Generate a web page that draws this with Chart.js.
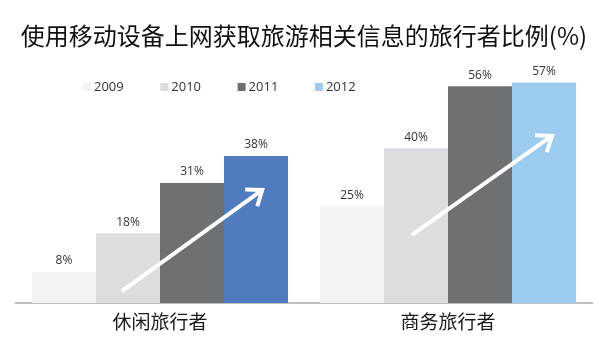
<!DOCTYPE html>
<html lang="zh">
<head>
    <meta charset="UTF-8">
    <title>使用移动设备上网获取旅游相关信息的旅行者比例(%)</title>
    <script src="https://cdn.jsdelivr.net/npm/chart.js"></script>
    <style>
        body { margin: 0; padding: 0; background: #fff; }
        .chart-box { width: 599px; height: 347px; position: relative; }
    </style>
</head>
<body>
    <div class="chart-box">
        <canvas id="myChart"></canvas>
    </div>

    <script>
        // categories, years and percentages
        const categories = ['休闲旅行者', '商务旅行者'];
        const years = ['2009', '2010', '2011', '2012'];
        const share2009 = [8, 25];
        const share2010 = [18, 40];
        const share2011 = [31, 56];
        const share2012 = [38, 57];

        // trend arrows: [category offset, value] for tail and head
        const arrowTails = [[-0.132, 3.1], [0.875, 17.6]];
        const arrowHeads = [[0.355, 29.2], [1.361, 43.2]];

        const colors2012 = ['#4f7bbf', '#9bcbef'];

        // percentage above each bar
        const valueLabels = {
            id: 'valueLabels',
            afterDatasetsDraw(chart) {
                const ctx = chart.ctx;
                ctx.save();
                ctx.font = '12px "Open Sans", sans-serif';
                ctx.fillStyle = '#333';
                ctx.textAlign = 'center';
                ctx.textBaseline = 'middle';
                chart.data.datasets.forEach((ds, i) => {
                    chart.getDatasetMeta(i).data.forEach((bar, j) => {
                        ctx.fillText(ds.data[j] + '%', bar.x, bar.y - 11);
                    });
                });
                ctx.restore();
            }
        };

        // white trend arrows over the bars
        const trendArrows = {
            id: 'trendArrows',
            afterDatasetsDraw(chart) {
                const { ctx, scales: { x, y } } = chart;
                ctx.save();
                ctx.strokeStyle = '#fff';
                ctx.lineWidth = 4;
                arrowTails.forEach((t, i) => {
                    const h = arrowHeads[i];
                    const x0 = x.getPixelForValue(t[0]), y0 = y.getPixelForValue(t[1]);
                    const x1 = x.getPixelForValue(h[0]), y1 = y.getPixelForValue(h[1]);
                    const ang = Math.atan2(y1 - y0, x1 - x0);
                    ctx.lineCap = 'butt';
                    ctx.beginPath();
                    ctx.moveTo(x0, y0);
                    ctx.lineTo(x1 - Math.cos(ang) * 2, y1 - Math.sin(ang) * 2);
                    ctx.stroke();
                    const len = 17, spread = 0.65;
                    ctx.lineJoin = 'miter';
                    ctx.beginPath();
                    ctx.moveTo(x1 - len * Math.cos(ang - spread), y1 - len * Math.sin(ang - spread));
                    ctx.lineTo(x1, y1);
                    ctx.lineTo(x1 - len * Math.cos(ang + spread), y1 - len * Math.sin(ang + spread));
                    ctx.stroke();
                });
                ctx.restore();
            }
        };

        // one-row legend with small square swatches
        const yearLegend = {
            id: 'yearLegend',
            afterDraw(chart) {
                const ctx = chart.ctx;
                ctx.save();
                ctx.font = '13px "Open Sans", sans-serif';
                ctx.textBaseline = 'middle';
                chart.data.datasets.forEach((ds, i) => {
                    const left = 83 + i * 77.3;
                    const swatch = Array.isArray(ds.backgroundColor) ? ds.backgroundColor[1] : ds.backgroundColor;
                    ctx.fillStyle = swatch;
                    ctx.fillRect(left, 83, 8, 8);
                    ctx.fillStyle = '#333';
                    ctx.fillText(ds.label, left + 11, 87.5);
                });
                ctx.restore();
            }
        };

        const ctx = document.getElementById('myChart').getContext('2d');
        new Chart(ctx, {
            type: 'bar',
            data: {
                labels: categories,
                datasets: [
                    { label: years[0], data: share2009, backgroundColor: '#f3f3f3' },
                    { label: years[1], data: share2010, backgroundColor: '#dcdde0' },
                    { label: years[2], data: share2011, backgroundColor: '#6e7074' },
                    { label: years[3], data: share2012, backgroundColor: colors2012 }
                ]
            },
            options: {
                responsive: true,
                maintainAspectRatio: false,
                animation: false,
                categoryPercentage: 256 / 288,
                barPercentage: 1,
                layout: { padding: { left: 16, right: 7, top: 0, bottom: 6 } },
                plugins: {
                    legend: { display: false },
                    tooltip: { enabled: false },
                    title: {
                        display: true,
                        text: '使用移动设备上网获取旅游相关信息的旅行者比例(%)',
                        color: '#111',
                        font: { family: '"Noto Sans CJK SC", sans-serif', size: 24, weight: 'normal', lineHeight: 1.2 },
                        padding: { top: 21, bottom: 21 }
                    }
                },
                scales: {
                    x: {
                        grid: { display: false, drawTicks: false },
                        border: { display: true, color: '#bfbfbf', width: 2 },
                        ticks: {
                            color: '#1a1a1a',
                            padding: 7.6,
                            font: { family: '"Noto Sans CJK SC", sans-serif', size: 19 }
                        }
                    },
                    y: {
                        display: false,
                        min: 0,
                        max: 60
                    }
                }
            },
            plugins: [valueLabels, trendArrows, yearLegend]
        });
    </script>
</body>
</html>
